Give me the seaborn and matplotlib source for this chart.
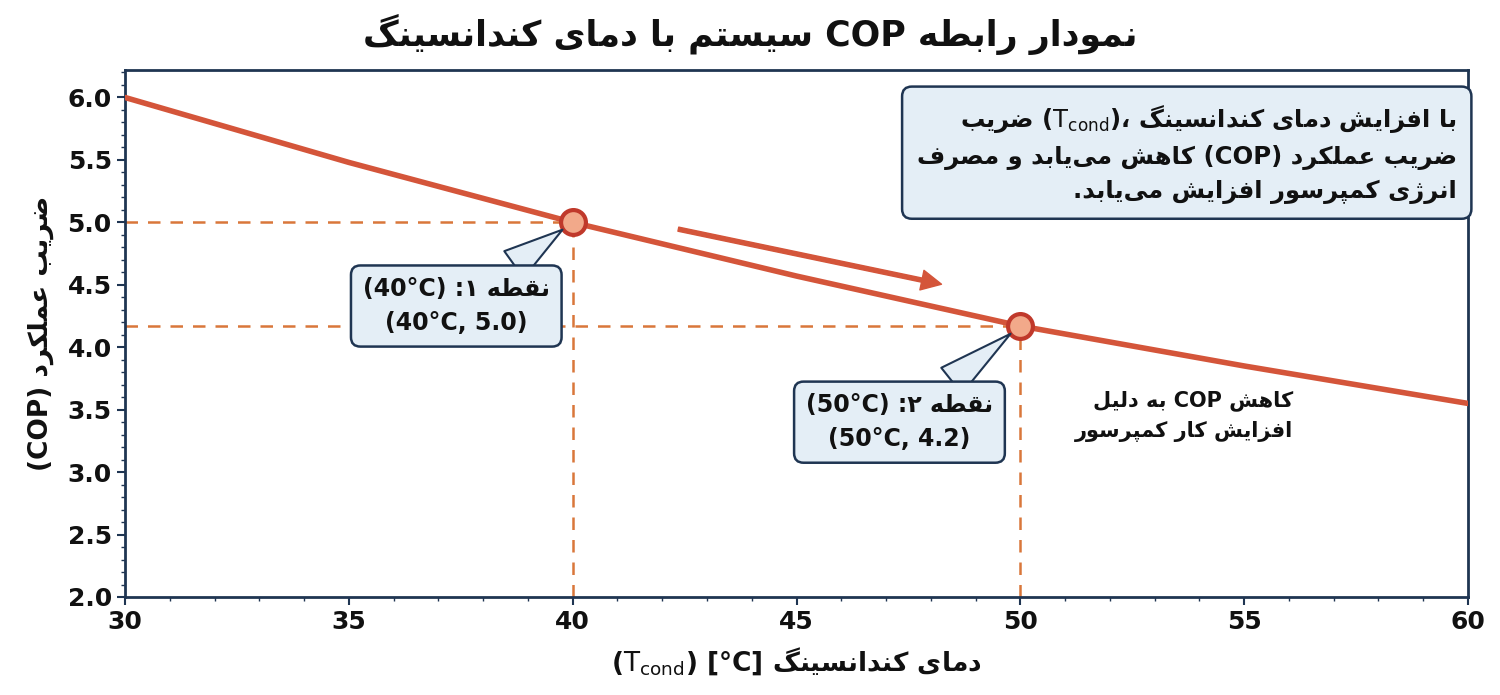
import matplotlib
matplotlib.use("Agg")
import matplotlib.pyplot as plt
import seaborn as sns
import pandas as pd
from matplotlib.ticker import MultipleLocator

# ---------- minimal Persian shaping + RTL ordering ----------
FORMS = {
    'ا': ('\uFE8D', '\uFE8E', None, None), 'د': ('\uFEA9', '\uFEAA', None, None),
    'ر': ('\uFEAD', '\uFEAE', None, None), 'ز': ('\uFEAF', '\uFEB0', None, None),
    'ژ': ('\uFB8A', '\uFB8B', None, None), 'و': ('\uFEED', '\uFEEE', None, None),
    'ب': ('\uFE8F', '\uFE90', '\uFE91', '\uFE92'), 'ت': ('\uFE95', '\uFE96', '\uFE97', '\uFE98'),
    'ح': ('\uFEA1', '\uFEA2', '\uFEA3', '\uFEA4'), 'س': ('\uFEB1', '\uFEB2', '\uFEB3', '\uFEB4'),
    'ش': ('\uFEB5', '\uFEB6', '\uFEB7', '\uFEB8'), 'ص': ('\uFEB9', '\uFEBA', '\uFEBB', '\uFEBC'),
    'ض': ('\uFEBD', '\uFEBE', '\uFEBF', '\uFEC0'), 'ط': ('\uFEC1', '\uFEC2', '\uFEC3', '\uFEC4'),
    'ع': ('\uFEC9', '\uFECA', '\uFECB', '\uFECC'), 'ف': ('\uFED1', '\uFED2', '\uFED3', '\uFED4'),
    'ق': ('\uFED5', '\uFED6', '\uFED7', '\uFED8'), 'ل': ('\uFEDD', '\uFEDE', '\uFEDF', '\uFEE0'),
    'م': ('\uFEE1', '\uFEE2', '\uFEE3', '\uFEE4'), 'ن': ('\uFEE5', '\uFEE6', '\uFEE7', '\uFEE8'),
    'ه': ('\uFEE9', '\uFEEA', '\uFEEB', '\uFEEC'), 'پ': ('\uFB56', '\uFB57', '\uFB58', '\uFB59'),
    'ک': ('\uFB8E', '\uFB8F', '\uFB90', '\uFB91'), 'گ': ('\uFB92', '\uFB93', '\uFB94', '\uFB95'),
    'ی': ('\uFBFC', '\uFBFD', '\uFBFE', '\uFBFF'),
}
MIRROR = {'(': ')', ')': '(', '[': ']', ']': '['}


def shape_word(w):
    out = []
    n = len(w)
    for i, c in enumerate(w):
        if c not in FORMS:
            if c != '\u200c':
                out.append(MIRROR.get(c, c))
            continue
        prev = w[i - 1] if i > 0 else None
        nxt = w[i + 1] if i < n - 1 else None
        cp = prev in FORMS and FORMS[prev][2] is not None
        cn = nxt in FORMS and FORMS[c][2] is not None
        iso, fin, ini, med = FORMS[c]
        out.append(med if cp and cn else fin if cp else ini if cn else iso)
    return ''.join(reversed(out))


def is_rtl(w):
    return any('\u0600' <= ch <= '\u06FF' and ch not in '،' for ch in w)


def fa(line):
    words = line.split(' ')
    runs = []
    for w in words:
        if is_rtl(w):
            runs.append([shape_word(w)])
        else:
            if runs and isinstance(runs[-1], tuple):
                runs[-1][0].append(w)
            else:
                runs.append(([w],))
    parts = []
    for r in reversed(runs):
        parts.append(' '.join(r[0]) if isinstance(r, tuple) else r[0])
    return ' '.join(parts)


def fam(text):
    return '\n'.join(fa(l) for l in text.split('\n'))

# ---------- data ----------
t_cond = [30, 35, 40, 45, 50, 55, 60]
cop = [6.0, 5.48, 5.0, 4.57, 4.17, 3.85, 3.55]
point_x = [40, 50]
point_y = [5.0, 4.17]

title = "نمودار رابطه COP سیستم با دمای کندانسینگ"
xlabel = "دمای کندانسینگ ($\\mathrm{T}_{\\mathrm{cond}}$) [°C]"
ylabel = "ضریب عملکرد (COP)"
info = ("با افزایش دمای کندانسینگ ($\\mathrm{T}_{\\mathrm{cond}}$)، ضریب\n"
        "ضریب عملکرد (COP) کاهش می‌یابد و مصرف\n"
        "انرژی کمپرسور افزایش می‌یابد.")
p1 = "نقطه ۱: (40°C)\n(40°C, 5.0)"
p2 = "نقطه ۲: (50°C)\n(50°C, 4.2)"
note = "کاهش COP به دلیل\nافزایش کار کمپرسور"

# ---------- plot ----------
sns.set_theme(style="white")
plt.rcParams['font.family'] = ['DejaVu Sans']
plt.rcParams['mathtext.fontset'] = 'dejavusans'
plt.rcParams['mathtext.default'] = 'bf'

NAVY = '#1f3552'
RED = '#d4553a'
DASH = '#d9773a'
BOXFC = '#e4eef6'
INK = '#111111'

fig = plt.figure(figsize=(15, 6.95), dpi=100)
ax = fig.add_axes([125 / 1500, 1 - 597 / 695, (1468 - 125) / 1500, (597 - 70) / 695])

df = pd.DataFrame({'t': t_cond, 'cop': cop})
sns.lineplot(data=df, x='t', y='cop', ax=ax, color=RED, lw=4, zorder=3)

for px, py in zip(point_x, point_y):
    ax.plot([30, px], [py, py], ls=(0, (5, 4)), color=DASH, lw=1.8, zorder=2)
    ax.plot([px, px], [2.0, py], ls=(0, (5, 4)), color=DASH, lw=1.8, zorder=2)
sns.scatterplot(x=point_x, y=point_y, ax=ax, s=320, color='#f2a98a', edgecolor='#c0392b',
                linewidth=3, zorder=5)

ax.set_xlim(30, 60)
ax.set_ylim(2.0, 6.22)
ax.xaxis.set_major_locator(MultipleLocator(5))
ax.xaxis.set_minor_locator(MultipleLocator(1))
ax.yaxis.set_major_locator(MultipleLocator(0.5))
ax.yaxis.set_minor_locator(MultipleLocator(0.1))
ax.yaxis.set_major_formatter(matplotlib.ticker.FormatStrFormatter('%.1f'))
ax.tick_params(which='major', direction='out', length=6, width=1.5, color=NAVY,
               labelsize=18, labelcolor=INK, bottom=True, left=True)
ax.tick_params(which='minor', direction='out', length=3, width=1, color=NAVY,
               bottom=True, left=True)
for lab in ax.get_xticklabels() + ax.get_yticklabels():
    lab.set_fontweight('bold')
for s in ax.spines.values():
    s.set_color(NAVY)
    s.set_linewidth(2)

ax.set_xlabel(fam(xlabel), fontsize=19, fontweight='bold', labelpad=8, color=INK)
ax.set_ylabel(fam(ylabel), fontsize=19, fontweight='bold', labelpad=10, color=INK)
fig.suptitle(fam(title), fontsize=25, fontweight='bold', y=0.98, color=INK)

box = dict(boxstyle='round,pad=0.5,rounding_size=0.4', fc=BOXFC, ec=NAVY, lw=1.8)
wedge = dict(arrowstyle='wedge,tail_width=1.4', fc=BOXFC, ec=NAVY, lw=1.5,
             shrinkA=0, shrinkB=9)
ax.annotate(fam(p1), xy=(40, 5.0), xytext=(37.4, 4.33), fontsize=17, fontweight='bold',
            ha='center', va='center', linespacing=1.5, bbox=box, zorder=6,
            color=INK, arrowprops=wedge)
ax.annotate(fam(p2), xy=(50, 4.17), xytext=(47.3, 3.4), fontsize=17, fontweight='bold',
            ha='center', va='center', linespacing=1.5, bbox=box, zorder=6,
            color=INK, arrowprops=wedge)
ax.text(59.75, 5.55, fam(info), fontsize=17.5, fontweight='bold', ha='right', va='center',
        linespacing=1.5, zorder=6, color=INK,
        bbox=dict(boxstyle='round,pad=0.6,rounding_size=0.4', fc=BOXFC, ec=NAVY, lw=1.8))
ax.text(56.1, 3.45, fam(note), fontsize=15, fontweight='bold', ha='right', va='center',
        linespacing=1.6, color=INK)

ax.annotate('', xy=(48.3, 4.50), xytext=(42.3, 4.95),
            arrowprops=dict(arrowstyle='simple,head_length=1.2,head_width=1.2,tail_width=0.25',
                            fc=RED, ec=RED))

fig.savefig('out.png', dpi=100)
